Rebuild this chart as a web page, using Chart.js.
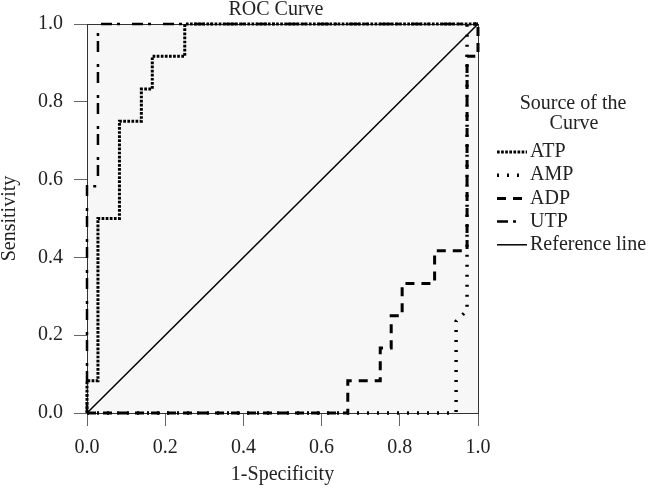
<!DOCTYPE html>
<html>
<head>
<meta charset="utf-8">
<title>ROC Curve</title>
<script src="https://cdn.jsdelivr.net/npm/chart.js@4.4.1/dist/chart.umd.min.js"></script>
<style>
  html, body { margin: 0; padding: 0; background: #fff; }
  #wrap { width: 650px; height: 491px; }
</style>
</head>
<body>
<div id="wrap"><canvas id="rocChart" width="650" height="491"></canvas></div>
<script>
// Tick values on both axes
const tickValues = [0, 0.2, 0.4, 0.6, 0.8, 1.0];

// Curves: x = 1-Specificity, y = Sensitivity
const atpX = [0, 0, 0.028, 0.028, 0.083, 0.083, 0.139, 0.139, 0.167, 0.167, 0.25, 0.25, 1];
const atpY = [0, 0.083, 0.083, 0.5, 0.5, 0.75, 0.75, 0.833, 0.833, 0.917, 0.917, 1, 1];

const ampX = [0, 0.944, 0.944, 0.972, 0.972, 1];
const ampY = [0, 0, 0.236, 0.264, 1, 1];

const adpX = [0, 0.667, 0.667, 0.75, 0.75, 0.778, 0.778, 0.806, 0.806, 0.889, 0.889, 0.972, 0.972, 1, 1];
const adpY = [0, 0, 0.083, 0.083, 0.167, 0.167, 0.25, 0.25, 0.333, 0.333, 0.417, 0.417, 0.917, 0.917, 1];

const utpX = [0, 0, 0.028, 0.028, 1];
const utpY = [0, 0.583, 0.583, 1, 1];

const refX = [0, 1];
const refY = [0, 1];

const serif = "'Liberation Serif', 'Times New Roman', serif";
const textColor = '#222';

// zip two arrays into {x, y} points
function toPoints(xs, ys) {
  return xs.map((x, i) => ({ x: x, y: ys[i] }));
}

function makeSet(label, xs, ys, width, dash) {
  return {
    label: label,
    data: toPoints(xs, ys),
    borderColor: '#000',
    borderWidth: width,
    borderDash: dash,
    borderCapStyle: 'butt',
    pointRadius: 0,
    tension: 0,
    fill: false,
    clip: false
  };
}

// plot background, frame, title and legend
const rocDecor = {
  id: 'rocDecor',
  beforeDraw(chart) {
    const { ctx, chartArea: a } = chart;
    ctx.save();
    ctx.fillStyle = '#f7f7f7';
    ctx.fillRect(a.left, a.top, a.right - a.left, a.bottom - a.top);
    ctx.restore();
  },
  beforeDatasetsDraw(chart) {
    const { ctx, chartArea: a } = chart;
    ctx.save();
    ctx.strokeStyle = '#333';
    ctx.lineWidth = 1;
    ctx.strokeRect(a.left + 0.5, a.top + 0.5, a.right - a.left, a.bottom - a.top);
    ctx.restore();
  },
  afterDraw(chart) {
    const ctx = chart.ctx;
    ctx.save();
    ctx.fillStyle = textColor;
    ctx.font = '20px ' + serif;

    // chart title
    ctx.textAlign = 'center';
    ctx.textBaseline = 'alphabetic';
    ctx.fillText('ROC Curve', 276, 15);

    // legend title
    ctx.fillText('Source of the', 573, 109);
    ctx.fillText('Curve', 574, 129);

    // legend rows
    ctx.textAlign = 'left';
    ctx.textBaseline = 'middle';
    chart.data.datasets.forEach((ds, i) => {
      const y = 152 + i * 23.2;
      ctx.strokeStyle = ds.borderColor;
      ctx.lineWidth = ds.borderWidth;
      ctx.lineCap = 'butt';
      ctx.setLineDash(ds.borderDash || []);
      ctx.beginPath();
      ctx.moveTo(497, y);
      ctx.lineTo(527, y);
      ctx.stroke();
      ctx.setLineDash([]);
      ctx.fillText(ds.label, 530, y);
    });
    ctx.restore();
  }
};

const axisFont = { family: serif, size: 20 };

new Chart(document.getElementById('rocChart').getContext('2d'), {
  type: 'line',
  data: {
    datasets: [
      makeSet('ATP', atpX, atpY, 3, [2.7, 1.4]),
      makeSet('AMP', ampX, ampY, 3.5, [2, 8]),
      makeSet('ADP', adpX, adpY, 3, [9, 7]),
      makeSet('UTP', utpX, utpY, 2.5, [11, 5, 3, 12]),
      makeSet('Reference line', refX, refY, 1.5, [])
    ]
  },
  options: {
    responsive: false,
    animation: false,
    devicePixelRatio: 1,
    layout: { padding: { top: 24, right: 172, left: 0, bottom: 0 } },
    plugins: {
      legend: { display: false },
      title: { display: false },
      tooltip: { enabled: false }
    },
    scales: {
      x: {
        type: 'linear',
        min: 0,
        max: 1,
        afterBuildTicks: s => { s.ticks = tickValues.map(v => ({ value: v })); },
        afterFit: s => { s.height = 78; },
        ticks: { callback: v => v.toFixed(1), font: axisFont, color: textColor, padding: 10, maxRotation: 0 },
        grid: { drawOnChartArea: false, tickLength: 13, color: '#666' },
        border: { color: '#333' },
        title: { display: true, text: '1-Specificity', font: axisFont, color: textColor, padding: { top: 0, bottom: 4 } }
      },
      y: {
        type: 'linear',
        min: 0,
        max: 1,
        afterBuildTicks: s => { s.ticks = tickValues.map(v => ({ value: v })); },
        afterFit: s => { s.width = 87; },
        ticks: { callback: v => v.toFixed(1), font: axisFont, color: textColor, padding: 11 },
        grid: { drawOnChartArea: false, tickLength: 13, color: '#666' },
        border: { color: '#555' },
        title: { display: true, text: 'Sensitivity', font: { family: serif, size: 20, lineHeight: 1 }, color: textColor, padding: 0 }
      }
    }
  },
  plugins: [rocDecor]
});
</script>
</body>
</html>
